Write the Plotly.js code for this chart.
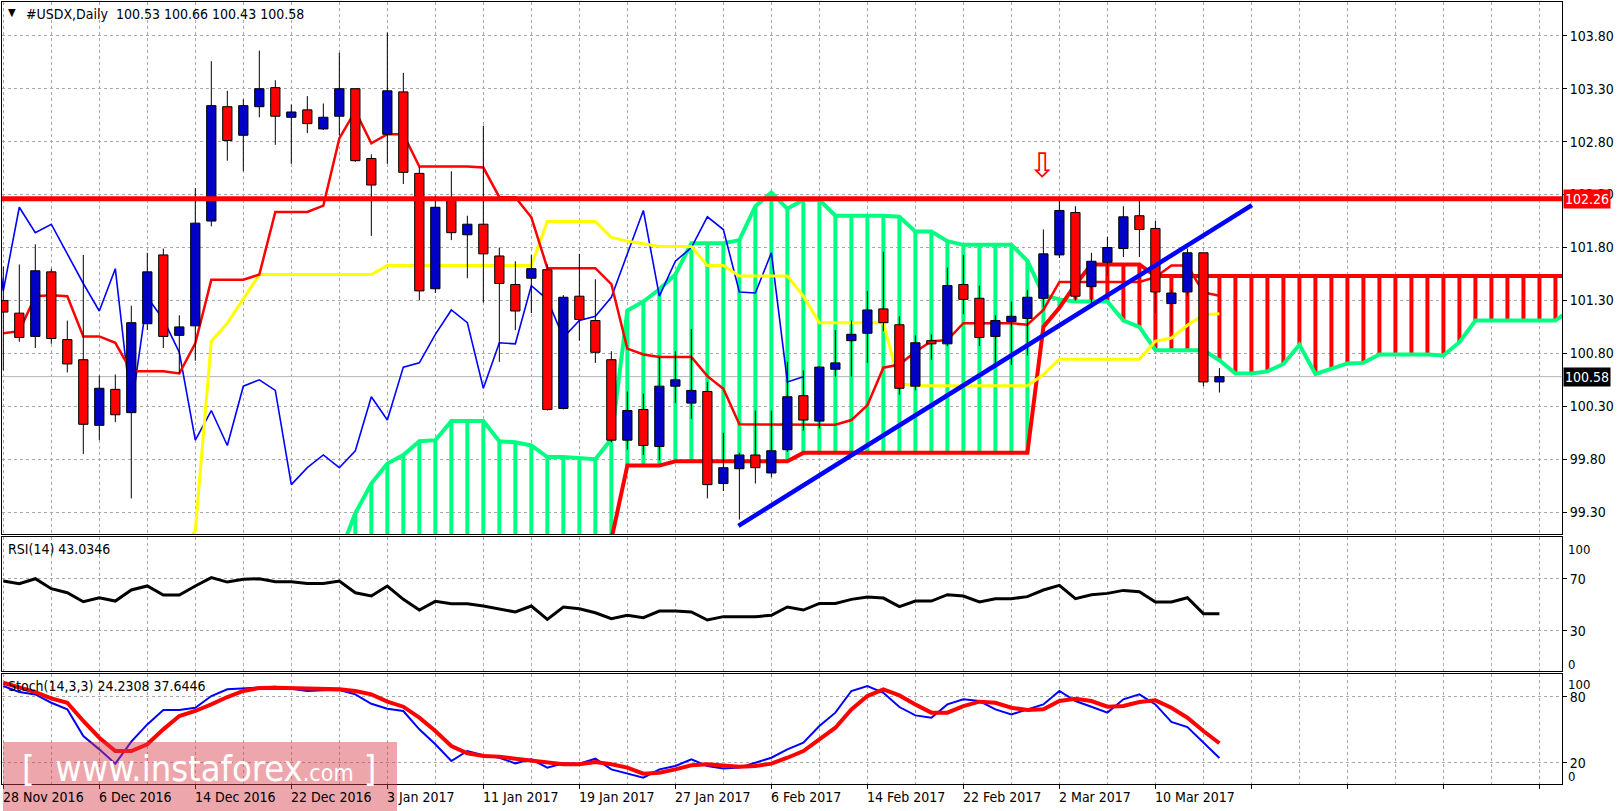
<!DOCTYPE html>
<html><head><meta charset="utf-8">
<script src="https://cdn.plot.ly/plotly-3.0.1.min.js"></script>
<style>html,body{margin:0;padding:0;background:#fff;}#chart{width:1622px;height:811px;}</style>
</head><body><div id="chart"></div>
<script>
// ---------------- data ----------------
const symbolTitle = "#USDX,Daily";
const lastQuote = ["100.53", "100.66", "100.43", "100.58"];

const openP = [101.30, 101.18, 100.96, 101.57, 100.93, 100.74, 100.12, 100.46, 100.24, 101.08,
  101.73, 100.97, 101.06, 102.05, 103.13, 102.86, 103.13, 103.31, 103.03, 103.10,
  102.92, 103.04, 103.30, 102.64, 102.87, 103.27, 102.50, 101.41, 102.25, 101.92,
  102.02, 101.72, 101.45, 101.51, 101.59, 100.28, 101.34, 101.11, 100.74, 99.98,
  100.27, 99.92, 100.49, 100.33, 100.44, 99.57, 99.71, 99.84, 99.67, 99.89,
  100.40, 100.16, 100.65, 100.92, 100.99, 101.22, 101.07, 100.49, 100.92, 100.89,
  101.45, 101.32, 100.96, 101.10, 101.13, 101.32, 101.73, 102.13, 101.43, 101.66,
  101.79, 102.10, 101.98, 101.27, 101.38, 101.75, 100.53];
const highP = [101.62, 101.64, 101.83, 101.60, 101.11, 101.73, 100.59, 100.60, 101.25, 101.75,
  101.79, 101.16, 102.36, 103.56, 103.28, 103.20, 103.66, 103.38, 103.15, 103.23,
  103.16, 103.64, 103.30, 102.68, 103.83, 103.45, 102.56, 102.29, 102.52, 102.10,
  102.95, 101.80, 101.67, 101.73, 101.64, 101.35, 101.74, 101.50, 100.82, 100.44,
  100.42, 100.76, 100.82, 101.03, 100.53, 100.05, 99.86, 100.26, 100.26, 100.72,
  100.64, 100.68, 101.02, 101.11, 101.39, 101.76, 101.15, 100.97, 100.98, 101.61,
  101.73, 101.44, 101.16, 101.29, 101.40, 101.97, 102.26, 102.19, 101.75, 101.90,
  102.19, 102.26, 102.05, 101.41, 101.79, 101.75, 100.66];
const lowP = [100.64, 100.91, 100.85, 100.89, 100.62, 99.85, 99.98, 100.15, 99.43, 101.02,
  100.85, 100.61, 100.73, 102.00, 102.62, 102.52, 103.03, 102.77, 102.59, 102.88,
  102.91, 102.86, 102.61, 101.91, 102.59, 102.40, 101.30, 101.37, 101.87, 101.51,
  101.28, 100.72, 101.02, 101.18, 100.26, 100.27, 100.92, 100.71, 99.96, 99.89,
  99.84, 99.79, 100.33, 100.18, 99.43, 99.50, 99.23, 99.57, 99.63, 99.87,
  100.07, 100.09, 100.58, 100.58, 100.71, 101.01, 100.41, 100.45, 100.74, 100.87,
  101.17, 100.87, 100.69, 100.69, 100.78, 101.24, 101.70, 101.30, 101.23, 101.53,
  101.71, 101.71, 101.18, 101.00, 101.34, 100.49, 100.43];
const closeP = [101.19, 100.95, 101.58, 100.94, 100.70, 100.13, 100.47, 100.22, 101.09, 101.57,
  100.96, 101.05, 102.03, 103.14, 102.81, 103.14, 103.30, 103.04, 103.08, 102.97,
  103.03, 103.30, 102.62, 102.39, 103.28, 102.51, 101.39, 102.18, 101.94, 102.02,
  101.74, 101.46, 101.20, 101.60, 100.27, 101.33, 101.12, 100.81, 99.98, 100.26,
  99.93, 100.49, 100.55, 100.45, 99.56, 99.72, 99.84, 99.72, 99.88, 100.39,
  100.17, 100.67, 100.71, 100.98, 101.21, 101.09, 100.47, 100.90, 100.89, 101.44,
  101.31, 100.95, 101.11, 101.15, 101.33, 101.74, 102.15, 101.34, 101.67, 101.80,
  102.09, 101.97, 101.38, 101.37, 101.75, 100.53, 100.58];

// Ichimoku lines (per bar)
const tenkan = [100.99, 101.01, 101.34, 101.35, 101.34, 100.96, 100.96, 100.90, 100.63, 100.63,
  100.63, 100.61, 100.895, 101.495, 101.495, 101.495, 101.545, 102.135, 102.135, 102.135,
  102.195, 102.83, 103.09, 102.785, 102.87, 102.87, 102.565, 102.565, 102.565, 102.565,
  102.555, 102.275, 102.275, 102.085, 101.605, 101.605, 101.605, 101.605, 101.455, 100.845,
  100.79, 100.765, 100.765, 100.765, 100.585, 100.465, 100.13, 100.13, 100.13, 100.13,
  100.13, 100.13, 100.125, 100.17, 100.31, 100.665, 100.695, 100.815, 100.915, 100.925,
  101.085, 101.085, 101.085, 101.085, 101.07, 101.21, 101.475, 101.475, 101.475, 101.475,
  101.475, 101.475, 101.52, 101.63, 101.63, 101.375, 101.345];
const kijun = [null, null, null, null, null, null, null, null, null, null,
  null, 98.9, 99.125, 100.915, 101.085, 101.315, 101.545, 101.545, 101.545, 101.545,
  101.545, 101.545, 101.545, 101.545, 101.63, 101.63, 101.63, 101.63, 101.63, 101.63,
  101.63, 101.63, 101.63, 101.63, 102.045, 102.045, 102.045, 102.045, 101.895, 101.86,
  101.835, 101.81, 101.81, 101.81, 101.63, 101.63, 101.53, 101.53, 101.53, 101.53,
  101.34, 101.09, 101.09, 101.09, 101.09, 101.09, 100.515, 100.495, 100.495, 100.495,
  100.495, 100.495, 100.495, 100.495, 100.495, 100.60, 100.745, 100.745, 100.745, 100.745,
  100.745, 100.745, 100.915, 100.945, 101.065, 101.165, 101.175];
// cloud (26 bars ahead of price, index = bar slot)
const spanA = [null, null, null, null, null, null, null, null, null, null,
  null, null, null, null, null, null, null, null, null, null,
  null, 98.9, 99.29, 99.57, 99.76, 99.84, 99.97, 99.98, 100.16, 100.16,
  100.16, 99.97, 99.96, 99.93, 99.82, 99.82, 99.81, 99.80, 99.99, 101.205,
  101.29, 101.405, 101.545, 101.84, 101.84, 101.84, 101.87, 102.19, 102.32, 102.165,
  102.25, 102.25, 102.10, 102.10, 102.10, 102.10, 102.09, 101.95, 101.95, 101.86,
  101.825, 101.825, 101.825, 101.825, 101.675, 101.35, 101.31, 101.29, 101.29, 101.29,
  101.11, 101.05, 100.83, 100.83, 100.83, 100.83, 100.735, 100.61, 100.61, 100.63,
  100.70, 100.88, 100.605, 100.655, 100.705, 100.71, 100.79, 100.79, 100.79, 100.79,
  100.78, 100.905, 101.11, 101.11, 101.11, 101.11, 101.11, 101.11, 101.22, 101.29,
  101.35, 101.27, 101.26];
const spanB = [98.8, 98.8, 98.8, 98.8, 98.8, 98.8, 98.8, 98.8, 98.8, 98.8,
  98.8, 98.8, 98.8, 98.8, 98.8, 98.8, 98.8, 98.8, 98.8, 98.8,
  98.8, 98.8, 98.8, 98.8, 98.8, 98.8, 98.8, 98.8, 98.8, 98.8,
  98.8, 98.8, 98.8, 98.8, 98.8, 98.8, 98.8, 98.8, 99.04, 99.74,
  99.74, 99.74, 99.78, 99.78, 99.78, 99.78, 99.78, 99.78, 99.78, 99.78,
  99.86, 99.86, 99.86, 99.86, 99.86, 99.86, 99.86, 99.86, 99.86, 99.86,
  99.86, 99.86, 99.86, 99.86, 99.86, 101.05, 101.23, 101.45, 101.64, 101.64,
  101.64, 101.64, 101.53, 101.53, 101.53, 101.53, 101.53, 101.53, 101.53, 101.53,
  101.53, 101.53, 101.53, 101.53, 101.53, 101.53, 101.53, 101.53, 101.53, 101.53,
  101.53, 101.53, 101.53, 101.53, 101.53, 101.53, 101.53, 101.53, 101.53, 101.53,
  101.53, 101.53, 101.34];

const rsi = [68.2, 66.2, 70.0, 62.3, 59.2, 52.3, 55.4, 52.8, 61.3, 64.4,
  57.4, 57.4, 64.4, 70.8, 67.4, 69.5, 70.0, 67.7, 67.7, 66.4,
  66.4, 68.2, 59.2, 56.7, 64.4, 54.1, 45.9, 52.6, 50.8, 50.8,
  49.0, 46.9, 44.4, 49.0, 38.7, 48.2, 46.9, 43.8, 39.2, 41.8,
  40.0, 45.1, 45.1, 44.4, 38.2, 40.8, 40.8, 40.8, 41.8, 48.2,
  45.9, 51.0, 51.0, 54.1, 55.9, 55.1, 48.5, 52.8, 52.8, 57.7,
  56.7, 52.1, 54.6, 54.6, 56.2, 61.3, 64.9, 54.6, 57.7, 58.7,
  61.0, 60.0, 52.1, 52.1, 55.4, 43.1, 43.03];
const stochK = [89.7, 84.2, 82.1, 74.5, 68.5, 44.2, 32.1, 19.1, 39.1, 54.8,
  67.9, 67.9, 70.0, 80.6, 86.7, 87.6, 87.9, 89.1, 87.3, 85.2,
  85.8, 86.1, 82.1, 73.6, 69.1, 67.0, 50.3, 36.7, 21.5, 30.6,
  26.7, 24.5, 19.4, 23.0, 15.5, 19.4, 19.1, 23.6, 13.9, 10.3,
  6.4, 13.9, 17.0, 23.0, 17.0, 14.8, 15.5, 20.0, 24.5, 32.1,
  38.2, 53.3, 65.5, 85.2, 89.7, 83.6, 70.6, 63.0, 60.9, 73.0,
  77.6, 76.1, 68.5, 63.9, 68.5, 73.0, 85.2, 76.1, 70.9, 65.5,
  77.6, 82.1, 73.0, 57.0, 52.4, 38.2, 24.23];
const stochD = [92.7, 88.2, 84.2, 78.5, 74.5, 57.9, 42.7, 30.6, 30.6, 36.7,
  50.3, 62.4, 67.0, 73.0, 79.7, 85.2, 87.9, 88.2, 87.9, 87.6,
  86.7, 86.7, 85.2, 82.1, 75.5, 70.9, 60.9, 48.8, 35.2, 28.5,
  26.1, 25.5, 23.6, 22.1, 20.0, 18.5, 18.5, 20.6, 18.5, 15.5,
  10.0, 10.9, 13.9, 17.6, 18.5, 17.6, 16.4, 17.0, 19.1, 24.5,
  30.6, 41.2, 51.8, 68.5, 80.6, 86.7, 81.2, 73.0, 65.5, 65.5,
  71.5, 75.5, 74.5, 70.0, 67.9, 68.5, 76.1, 78.2, 76.1, 70.9,
  71.5, 75.2, 76.7, 70.0, 60.9, 48.8, 37.64];

const dateLabels = ["28 Nov 2016", "6 Dec 2016", "14 Dec 2016", "22 Dec 2016", "3 Jan 2017",
  "11 Jan 2017", "19 Jan 2017", "27 Jan 2017", "6 Feb 2017", "14 Feb 2017",
  "22 Feb 2017", "2 Mar 2017", "10 Mar 2017"];
const dateLabelBars = [0, 6, 12, 18, 24, 30, 36, 42, 48, 54, 60, 66, 72];
const priceTicks = [99.30, 99.80, 100.30, 100.80, 101.30, 101.80, 102.30, 102.80, 103.30, 103.80];
const rsiTicks = [30, 70];
const stochTicks = [20, 80];
const rsiLabel = "RSI(14) 43.0346";
const stochLabel = "Stoch(14,3,3) 24.2308 37.6446";

const resistance = 102.26;
const trendBars = [45.94, 78.03];
const trendPrices = [99.17, 102.20];
const arrowBar = 64.96, arrowPrice = 102.58;
const chikouShift = 26;

// ---------------- build traces ----------------
const bars = openP.map((_, i) => i);
const W = 0.29;
const FONT = "DejaVu Sans Condensed, Liberation Sans, Arial, sans-serif";

function hatch(cond) {
  const x = [], y = [];
  spanA.forEach((a, k) => {
    const b = spanB[k];
    if (a === null || b === null) return;
    if (cond(a, b)) { x.push(k, k, null); y.push(a, b, null); }
  });
  return {x, y};
}
const hG = hatch((a, b) => a >= b);
const hR = hatch((a, b) => a < b);
const slots = spanA.map((_, k) => k);

const wx = [], wy = [];
bars.forEach(i => { wx.push(i, i, null); wy.push(lowP[i], highP[i], null); });
function bodies(up) {
  const x = [], y = [];
  bars.forEach(i => {
    const isUp = closeP[i] >= openP[i];
    if (isUp !== up) return;
    const lo = Math.min(openP[i], closeP[i]), hi = Math.max(openP[i], closeP[i]);
    x.push(i - W, i + W, i + W, i - W, i - W, null);
    y.push(lo, lo, hi, hi, lo, null);
  });
  return {x, y};
}
const bu = bodies(true), bd = bodies(false);
const chX = [], chY = [];
bars.forEach(i => { if (i - chikouShift >= -1) { chX.push(i - chikouShift); chY.push(closeP[i]); } });
const lastClose = closeP[closeP.length - 1];

const G = "#00ff80";
const traces = [
  {x: [-1, 98], y: [lastClose, lastClose], mode: 'lines', line: {color: '#b4b4b4', width: 1}, xaxis: 'x', yaxis: 'y'},
  {x: hG.x, y: hG.y, mode: 'lines', line: {color: G, width: 4}, xaxis: 'x', yaxis: 'y'},
  {x: hR.x, y: hR.y, mode: 'lines', line: {color: '#ff0000', width: 4}, xaxis: 'x', yaxis: 'y'},
  {x: slots, y: spanA, mode: 'lines', line: {color: G, width: 4}, xaxis: 'x', yaxis: 'y'},
  {x: slots, y: spanB, mode: 'lines', line: {color: '#ff0000', width: 4}, xaxis: 'x', yaxis: 'y'},
  {x: chX, y: chY, mode: 'lines', line: {color: '#0000ff', width: 1.6}, xaxis: 'x', yaxis: 'y'},
  {x: bars, y: kijun, mode: 'lines', line: {color: '#ffff00', width: 3}, xaxis: 'x', yaxis: 'y'},
  {x: bars, y: tenkan, mode: 'lines', line: {color: '#ff0000', width: 2.5}, xaxis: 'x', yaxis: 'y'},
  {x: wx, y: wy, mode: 'lines', line: {color: '#000', width: 1}, xaxis: 'x', yaxis: 'y'},
  {x: bu.x, y: bu.y, mode: 'lines', fill: 'toself', fillcolor: '#0000c8', line: {color: '#000', width: 1}, xaxis: 'x', yaxis: 'y'},
  {x: bd.x, y: bd.y, mode: 'lines', fill: 'toself', fillcolor: '#ff0000', line: {color: '#000', width: 1}, xaxis: 'x', yaxis: 'y'},
  {x: trendBars, y: trendPrices, mode: 'lines', line: {color: '#0000ff', width: 4.5}, xaxis: 'x', yaxis: 'y'},
  {x: bars, y: rsi, mode: 'lines', line: {color: '#000', width: 3}, xaxis: 'x2', yaxis: 'y2'},
  {x: bars, y: stochK, mode: 'lines', line: {color: '#0000ff', width: 2}, xaxis: 'x3', yaxis: 'y3'},
  {x: bars, y: stochD, mode: 'lines', line: {color: '#ff0000', width: 4}, xaxis: 'x3', yaxis: 'y3'}
];

// ---------------- layout ----------------
const gridCol = "#a8a8a8";
const gridDash = "3px,3px";
function xAx(anchor, extra) {
  return Object.assign({
    anchor: anchor, domain: [0, 1], range: [-0.081, 97.41], tickmode: 'linear', tick0: 0, dtick: 6,
    showticklabels: false, showgrid: true, gridcolor: gridCol, griddash: gridDash, gridwidth: 1,
    minor: {dtick: 3, showgrid: true, gridcolor: gridCol, griddash: gridDash, gridwidth: 1},
    zeroline: false, showline: true, mirror: true, linecolor: '#000', linewidth: 1, ticks: '', fixedrange: true
  }, extra || {});
}
function yAx(anchor, domain, range, vals, text) {
  return {
    anchor: anchor, domain: domain, range: range, side: 'right', tickmode: 'array', tickvals: vals, ticktext: text,
    ticks: 'outside', ticklen: 4, tickcolor: '#000', showgrid: true, gridcolor: gridCol, griddash: gridDash,
    zeroline: false, showline: true, mirror: true, linecolor: '#000', linewidth: 1,
    tickfont: {family: FONT, size: 14, color: '#000'}, fixedrange: true
  };
}
const py = p => (784 - p) / 782;   // pixel row -> paper
const px = p => (p - 2) / 1560;    // pixel column -> paper

const ann = [];
ann.push({xref: 'paper', yref: 'paper', x: px(12), y: py(12.5), text: '▼', showarrow: false, font: {family: FONT, size: 11, color: '#000'}, xanchor: 'center', yanchor: 'middle'});
ann.push({xref: 'paper', yref: 'paper', x: px(24), y: py(14), text: symbolTitle + '\u00A0\u00A0' + lastQuote.join(' '), showarrow: false, font: {family: FONT, size: 14, color: '#000'}, xanchor: 'left', yanchor: 'middle'});
ann.push({xref: 'paper', yref: 'paper', x: px(6), y: py(549), text: rsiLabel, showarrow: false, font: {family: FONT, size: 14, color: '#000'}, xanchor: 'left', yanchor: 'middle'});
ann.push({xref: 'paper', yref: 'paper', x: px(6), y: py(686), text: stochLabel, showarrow: false, font: {family: FONT, size: 14, color: '#000'}, xanchor: 'left', yanchor: 'middle'});
[['100', 549], ['0', 664]].forEach(([t, yy]) => ann.push({xref: 'paper', yref: 'paper', x: 1, xshift: 4, y: py(yy), text: t, showarrow: false, font: {family: FONT, size: 13, color: '#000'}, xanchor: 'left', yanchor: 'middle'}));
[['100', 684], ['0', 776]].forEach(([t, yy]) => ann.push({xref: 'paper', yref: 'paper', x: 1, xshift: 4, y: py(yy), text: t, showarrow: false, font: {family: FONT, size: 13, color: '#000'}, xanchor: 'left', yanchor: 'middle'}));
ann.push({xref: 'paper', yref: 'paper', x: px(20), y: py(768), text: '[\u00A0\u00A0www.instaforex<span style="font-size:23px">.com</span>\u00A0]', showarrow: false, font: {family: 'Liberation Sans Narrow, DejaVu Sans Condensed, Liberation Sans', size: 36, color: '#ffffff'}, xanchor: 'left', yanchor: 'middle'});
dateLabels.forEach((t, j) => ann.push({xref: 'x', yref: 'paper', x: dateLabelBars[j], y: py(797), text: t, showarrow: false, font: {family: FONT, size: 14, color: '#000'}, xanchor: 'left', yanchor: 'middle', xshift: -2}));
ann.push({xref: 'paper', yref: 'y', x: 1, xshift: 1, y: resistance, text: resistance.toFixed(2), showarrow: false, bgcolor: '#ff0000', borderpad: 1, font: {family: FONT, size: 14, color: '#fff'}, xanchor: 'left', yanchor: 'middle'});
ann.push({xref: 'paper', yref: 'y', x: 1, xshift: 1, y: lastClose, text: lastClose.toFixed(2), showarrow: false, bgcolor: '#000', borderpad: 1, font: {family: FONT, size: 14, color: '#fff'}, xanchor: 'left', yanchor: 'middle'});
ann.push({xref: 'x', yref: 'y', x: arrowBar, y: arrowPrice, text: '⇩', showarrow: false, font: {family: 'DejaVu Sans', size: 34, color: '#ff0000'}, xanchor: 'center', yanchor: 'middle'});

const layout = {
  width: 1622, height: 811, margin: {l: 2, r: 60, t: 2, b: 27},
  paper_bgcolor: '#fff', plot_bgcolor: '#fff', showlegend: false,
  font: {family: FONT, size: 14, color: '#000'},
  xaxis: xAx('y'),
  xaxis2: xAx('y2', {matches: 'x'}),
  xaxis3: xAx('y3', {matches: 'x', ticks: 'outside', ticklen: 4, tickcolor: '#000'}),
  yaxis: yAx('x', [0.3192, 1], [99.090, 104.119], priceTicks, priceTicks.map(v => v.toFixed(2))),
  yaxis2: yAx('x2', [0.1445, 0.3159], [-1.0, 102.1], rsiTicks, rsiTicks.map(String)),
  yaxis3: yAx('x3', [0, 0.1413], [0.6, 101.1], stochTicks, stochTicks.map(String)),
  shapes: [
    {type: 'line', xref: 'x domain', yref: 'y', x0: 0, x1: 1, y0: resistance, y1: resistance, line: {color: '#ff0000', width: 5}, layer: 'above'},
    {type: 'rect', xref: 'paper', yref: 'paper', x0: px(3), x1: px(397), y0: py(811), y1: py(742), fillcolor: 'rgba(214,60,70,0.45)', line: {width: 0}, layer: 'above'}
  ],
  annotations: ann
};
Plotly.newPlot('chart', traces, layout, {displayModeBar: false, staticPlot: true});
</script>
</body></html>
